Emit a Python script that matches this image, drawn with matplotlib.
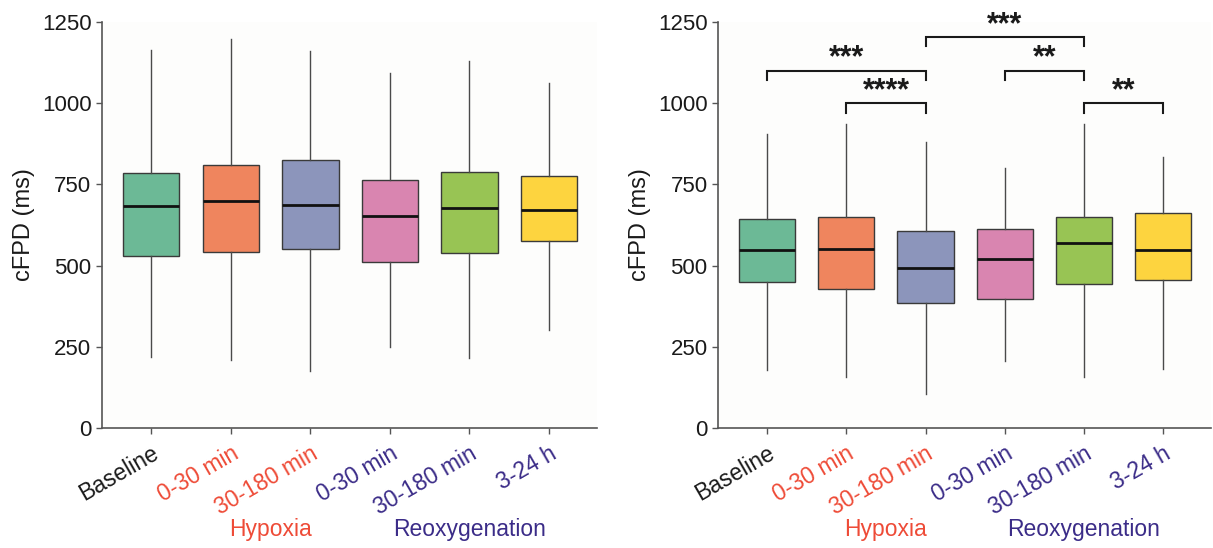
import matplotlib
matplotlib.use("Agg")
import matplotlib.pyplot as plt
from matplotlib import transforms

plt.rcParams['font.family'] = ['Liberation Sans', 'DejaVu Sans']

categories = ["Baseline", "0-30 min", "30-180 min", "0-30 min", "30-180 min", "3-24 h"]
label_colors = ["#1a1a1a", "#ee4b37", "#ee4b37", "#3b2c88", "#3b2c88", "#3b2c88"]
box_colors = ["#6cb996", "#ef855e", "#8c95bb", "#d985b0", "#98c454", "#fdd43f"]

# [whisker low, Q1, median, Q3, whisker high]
left_stats = [
    [220, 530, 682, 786, 1164],
    [208, 542, 700, 811, 1197],
    [174, 552, 687, 826, 1162],
    [249, 511, 654, 764, 1092],
    [215, 538, 677, 788, 1130],
    [303, 576, 671, 777, 1062],
]
right_stats = [
    [177, 449, 547, 642, 904],
    [158, 429, 552, 648, 937],
    [104, 385, 491, 605, 880],
    [206, 396, 521, 612, 800],
    [158, 444, 568, 651, 937],
    [183, 455, 549, 661, 835],
]
# significance brackets: (i, j, bracket y, label)
brackets = [
    (0, 2, 1100, "***"),
    (1, 2, 999, "****"),
    (2, 4, 1203, "***"),
    (3, 4, 1100, "**"),
    (4, 5, 999, "**"),
]
yticks = [0, 250, 500, 750, 1000, 1250]
groups = [("Hypoxia", 1.5, "#ee4b37"), ("Reoxygenation", 4.0, "#3b2c88")]

fig = plt.figure(figsize=(12.13, 5.48), dpi=100)
fig.patch.set_facecolor("white")
ax1 = fig.add_axes([0.084, 0.219, 0.408, 0.741])
ax2 = fig.add_axes([0.592, 0.219, 0.406, 0.741])


def draw(ax, stats):
    bxp = []
    for s in stats:
        bxp.append(dict(whislo=s[0], q1=s[1], med=s[2], q3=s[3], whishi=s[4], fliers=[]))
    res = ax.bxp(bxp, positions=range(len(stats)), widths=0.71, patch_artist=True,
                 showfliers=False, showcaps=False,
                 boxprops=dict(edgecolor="#3a3a3a", linewidth=1.0),
                 medianprops=dict(color="#111111", linewidth=2.0),
                 whiskerprops=dict(color="#4a4a4a", linewidth=1.0))
    for patch, c in zip(res["boxes"], box_colors):
        patch.set_facecolor(c)
    ax.set_xlim(-0.62, 5.6)
    ax.set_ylim(0, 1250)
    ax.set_yticks(yticks)
    ax.set_yticklabels([str(v) for v in yticks], fontsize=16, color="#1a1a1a")
    ax.set_xticks(range(len(categories)))
    ax.set_xticklabels(categories, rotation=30, ha="right", rotation_mode="anchor",
                       fontsize=16.5)
    offset = transforms.ScaledTranslation(6 / 100, 0, fig.dpi_scale_trans)
    for lbl, c in zip(ax.get_xticklabels(), label_colors):
        lbl.set_color(c)
        lbl.set_transform(lbl.get_transform() + offset)
    ax.tick_params(axis="both", direction="out", length=4, width=1, color="#555555")
    ax.tick_params(axis="x", pad=6)
    for sp in ["top", "right"]:
        ax.spines[sp].set_visible(False)
    for sp in ["left", "bottom"]:
        ax.spines[sp].set_color("#555555")
        ax.spines[sp].set_linewidth(1.2)
    ax.set_ylabel("cFPD (ms)", fontsize=17, color="#1a1a1a", labelpad=5)
    ax.set_facecolor("#fdfdfc")
    trans = transforms.blended_transform_factory(ax.transData, ax.transAxes)
    for name, xpos, c in groups:
        ax.text(xpos, -0.25, name, transform=trans, ha="center", va="center",
                fontsize=16.5, color=c, clip_on=False)


draw(ax1, left_stats)
draw(ax2, right_stats)

for i, j, y, lab in brackets:
    ax2.plot([i, i, j, j], [y - 28, y, y, y - 28], color="#1a1a1a", lw=1.5,
             solid_joinstyle="miter")
    ax2.text((i + j) / 2, y + 12, lab, ha="center", va="baseline", fontsize=22,
             color="#1a1a1a", fontweight="bold")

fig.savefig("out.png", dpi=100, facecolor="white")
